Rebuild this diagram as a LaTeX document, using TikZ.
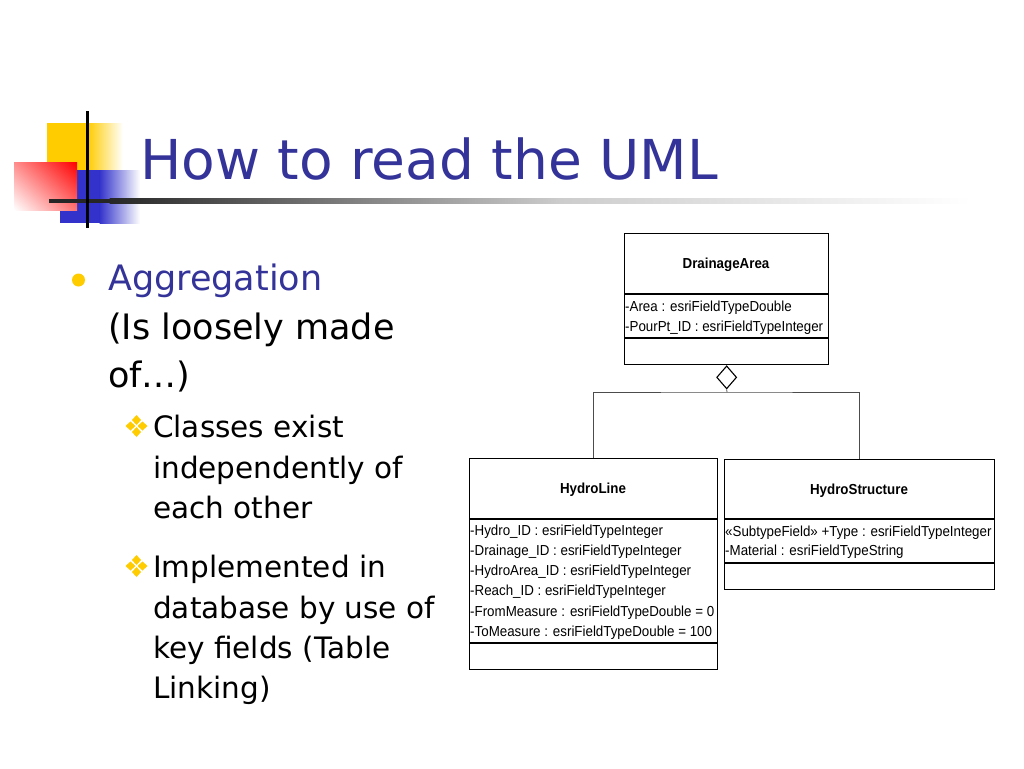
\documentclass[tikz,border=0pt]{standalone}
\usepackage{fontspec}
\setmainfont{DejaVu Sans}
\newfontfamily\umlfont[FakeStretch=0.92]{Liberation Sans}
\usetikzlibrary{shapes.geometric,shadings}
\definecolor{titleblue}{HTML}{333399}
\definecolor{logoyellow}{HTML}{FFCC00}
\definecolor{logoblue}{HTML}{3333CC}
\definecolor{bulletgold}{HTML}{FFCC00}
\tikzset{
  umlbox/.style={draw=black, line width=1.3pt, fill=white, inner sep=0pt, anchor=north west},
  umlsep/.style={draw=black, line width=1.1pt},
  umlname/.style={font=\umlfont\bfseries\fontsize{14.5}{17}\selectfont, anchor=base, inner sep=0pt},
  umlattr/.style={font=\umlfont\fontsize{14.5}{17}\selectfont, anchor=base west, inner sep=0pt},
  conn/.style={draw=black!70, line width=0.8pt},
  aggdiamond/.style={diamond, draw=black, line width=1.1pt, fill=white, minimum width=20pt, minimum height=23pt, inner sep=0pt},
  maintext/.style={font=\fontsize{35}{42}\selectfont, anchor=base west, inner sep=0pt},
  subtext/.style={font=\fontsize{29.5}{35}\selectfont, anchor=base west, inner sep=0pt},
  subbul/.style={fill=bulletgold, draw=none},
}
\newcommand{\subbullet}[2]{%
  \fill[subbul] (#1,#2-11) -- (#1+4.5,#2-6) -- (#1,#2-1) -- (#1-4.5,#2-6) -- cycle;
  \fill[subbul] (#1,#2+1) -- (#1+4.5,#2+6) -- (#1,#2+11) -- (#1-4.5,#2+6) -- cycle;
  \fill[subbul] (#1-11,#2) -- (#1-6,#2-4.5) -- (#1-1,#2) -- (#1-6,#2+4.5) -- cycle;
  \fill[subbul] (#1+1,#2) -- (#1+6,#2-4.5) -- (#1+11,#2) -- (#1+6,#2+4.5) -- cycle;
}
\begin{document}
\begin{tikzpicture}[x=1pt,y=-1pt]
\useasboundingbox (0,0) rectangle (1024,768);
\fill[white] (0,0) rectangle (1024,768);

% ---- logo ----
\fill[logoyellow] (47,123) rectangle (88,170);
\shade[left color=logoyellow, right color=white] (87.5,123) rectangle (123,170);
\fill[logoblue] (60,170) rectangle (100,223);
\shade[left color=logoblue, right color=white] (99.5,170) rectangle (140,223);
\shade[upper right=red, upper left=red!45, lower left=white, lower right=red!55] (14,162) rectangle (77,210);
\fill[black!85] (49,198.5) rectangle (110,203);
\shade[left color=black!85, right color=black!20] (109.5,198.5) rectangle (560,203);
\shade[left color=black!20, right color=white] (559.5,198.5) rectangle (970,203);
\fill[black] (85.5,111) rectangle (88.5,228);

% ---- title ----
\node[font=\fontsize{55}{66}\selectfont, text=titleblue, anchor=base west, inner sep=0pt] (title) at (140,179) {How to read the UML};

% ---- bullets ----
\fill[bulletgold] (78.5,280) circle (6.5);
\node[maintext, text=titleblue] (b1) at (108,290) {Aggregation};
\node[maintext] (b1b) at (108,339) {(Is loosely made};
\node[maintext] (b1c) at (108,387) {of…)};

\subbullet{136.5}{426}
\node[subtext] (s1) at (153,437) {Classes exist};
\node[subtext] (s1b) at (153,478) {independently of};
\node[subtext] (s1c) at (153,518) {each other};

\subbullet{136.5}{566}
\node[subtext] (s2) at (153,577) {Implemented in};
\node[subtext] (s2b) at (153,618) {database by use of};
\node[subtext] (s2c) at (153,658) {key fields (Table};
\node[subtext] (s2d) at (153,698) {Linking)};

% ---- UML: DrainageArea ----
\node[umlbox, minimum width=204pt, minimum height=131pt] (da) at (624,233) {};
\draw[umlsep] (624,294) -- (828,294);
\draw[umlsep] (624,338) -- (828,338);
\node[umlname] (daname) at (726,268) {DrainageArea};
\node[umlattr] (da1) at (625,311) {-Area : esriFieldTypeDouble};
\node[umlattr] (da2) at (625,331) {-PourPt\_ID : esriFieldTypeInteger};

% ---- UML: HydroLine ----
\node[umlbox, minimum width=248pt, minimum height=211pt] (hl) at (469,458) {};
\draw[umlsep] (469,519) -- (717,519);
\draw[umlsep] (469,643) -- (717,643);
\node[umlname] (hlname) at (593,493) {HydroLine};
\node[umlattr] (hl1) at (470,535) {-Hydro\_ID : esriFieldTypeInteger};
\node[umlattr] (hl2) at (470,555) {-Drainage\_ID : esriFieldTypeInteger};
\node[umlattr] (hl3) at (470,575) {-HydroArea\_ID : esriFieldTypeInteger};
\node[umlattr] (hl4) at (470,595.5) {-Reach\_ID : esriFieldTypeInteger};
\node[umlattr] (hl5) at (470,616) {-FromMeasure : esriFieldTypeDouble = 0};
\node[umlattr] (hl6) at (470,636) {-ToMeasure : esriFieldTypeDouble = 100};

% ---- UML: HydroStructure ----
\node[umlbox, minimum width=270pt, minimum height=130pt] (hs) at (724,459) {};
\draw[umlsep] (724,519) -- (994,519);
\draw[umlsep] (724,563) -- (994,563);
\node[umlname] (hsname) at (859,494) {HydroStructure};
\node[umlattr] (hs1) at (725,536) {«SubtypeField» +Type : esriFieldTypeInteger};
\node[umlattr] (hs2) at (725,555) {-Material : esriFieldTypeString};

% ---- aggregation connector ----
\node[aggdiamond, anchor=north] (agg) at (da.south) {};
\coordinate (j) at (727,392);
\draw[conn] (agg.south) -- (j);
\draw[conn] (hl.north) |- (j) -| (hs.north);
\end{tikzpicture}
\end{document}
